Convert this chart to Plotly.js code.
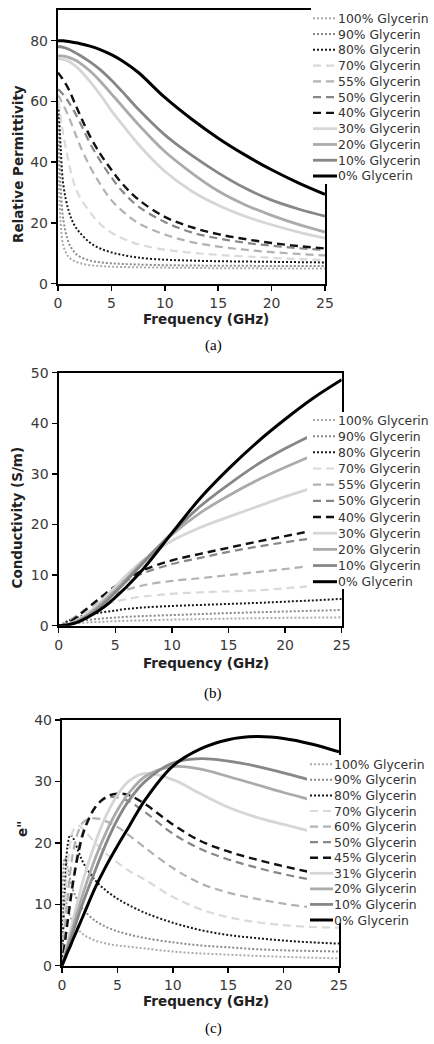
<!DOCTYPE html>
<html>
<head>
<meta charset="utf-8">
<script src="https://cdn.plot.ly/plotly-3.0.1.min.js"></script>
<style>
html, body { margin: 0; padding: 0; background: #ffffff; }
#chart { width: 434px; height: 1044px; }
</style>
</head>
<body>
<div id="chart"></div>
<script>
// ---------- DATA ----------
// (a) relative permittivity vs frequency (GHz)
const freqA = [0, 0.1, 0.25, 0.5, 1, 1.5, 2, 3, 4, 5, 6, 7.5, 10, 12.5, 15, 17.5, 20, 22.5, 25];
const perm100 = [46, 32, 20, 12.5, 8.8, 7.5, 6.8, 6.1, 5.8, 5.6, 5.5, 5.4, 5.3, 5.2, 5.1, 5.1, 5.0, 5.0, 5.0];
const perm90  = [55, 45, 32, 21, 13.5, 10.5, 9, 7.6, 7, 6.7, 6.5, 6.3, 6.1, 6, 5.9, 5.9, 5.8, 5.8, 5.8];
const perm80  = [60, 55, 45, 32.5, 24, 19.5, 17, 13.5, 11.5, 10.3, 9.5, 8.6, 7.9, 7.6, 7.4, 7.3, 7.2, 7.1, 7];
const perm70  = [60, 58.5, 55, 49, 40, 33, 28.8, 23.5, 19.5, 16.8, 15, 13, 11.2, 10.2, 9.5, 9, 8.5, 8.1, 7.8];
const perm55  = [62, 61.5, 60.5, 58.8, 55, 50.5, 46, 38.5, 32.5, 27.5, 24, 20, 16.2, 13.7, 12.2, 11.2, 10.4, 9.8, 9.3];
const perm50  = [64, 63.7, 63.2, 62.2, 59.8, 56.8, 53.5, 46.2, 40.2, 35, 30.5, 25.5, 20.3, 16.9, 14.9, 13.5, 12.5, 11.7, 11.1];
const perm40  = [69.5, 69, 68.3, 67, 64, 60, 56, 48.5, 42.5, 37.5, 33, 27.8, 22, 18.6, 16.3, 14.7, 13.4, 12.4, 11.6];
const perm30  = [74, 74, 74, 73.8, 73.2, 72, 70.5, 66.5, 62, 57, 52.5, 46, 37, 30.5, 25.8, 22.2, 19.4, 17, 15];
const perm20  = [75, 75, 75, 74.9, 74.5, 73.8, 72.8, 70, 66.5, 62.5, 58.5, 52.5, 43.5, 36.5, 30.5, 26, 22.5, 19.5, 17];
const perm10  = [78, 78, 78, 77.8, 77.2, 76.3, 75.3, 73, 70.3, 67, 63.3, 57.5, 49, 42.3, 36.5, 31.5, 27.5, 24.6, 22.2];
const perm0   = [80, 80, 80, 80, 79.7, 79.4, 79.1, 78.2, 77, 75.4, 73.4, 69.6, 61.3, 54.2, 47.9, 42.4, 37.5, 33.2, 29.4];

// (b) conductivity (S/m) and (c) e'' vs frequency (GHz)
const freqBC = [0, 0.25, 0.5, 0.75, 1, 1.5, 2, 3, 4, 5, 6, 7.5, 10, 12.5, 15, 17.5, 20, 22.5, 25];
const cond100 = [0, 0.15, 0.27, 0.33, 0.39, 0.48, 0.56, 0.7, 0.8, 0.9, 0.98, 1.05, 1.2, 1.3, 1.4, 1.48, 1.55, 1.6, 1.65];
const cond90  = [0, 0.24, 0.47, 0.6, 0.7, 0.87, 1.0, 1.25, 1.45, 1.6, 1.75, 1.9, 2.1, 2.3, 2.5, 2.65, 2.8, 2.95, 3.1];
const cond80  = [0, 0.17, 0.55, 0.9, 1.15, 1.55, 1.85, 2.3, 2.7, 3.0, 3.3, 3.6, 3.9, 4.1, 4.3, 4.5, 4.75, 5.0, 5.3];
const cond70  = [0, 0.12, 0.45, 0.83, 1.2, 1.9, 2.45, 3.3, 4.1, 4.75, 5.25, 5.8, 6.3, 6.6, 6.8, 7.0, 7.4, 7.9, 8.5];
const cond55  = [0, 0.08, 0.3, 0.63, 1.03, 1.85, 2.6, 4, 5.2, 6.3, 7.1, 8, 8.85, 9.4, 10, 10.6, 11.2, 11.9, 12.5];
const cond50  = [0, 0.05, 0.21, 0.45, 0.78, 1.58, 2.48, 4.3, 6.05, 7.6, 8.9, 10.4, 12.2, 13.4, 14.6, 15.6, 16.5, 17.3, 18.2];
const cond40  = [0, 0.05, 0.2, 0.43, 0.75, 1.55, 2.45, 4.3, 6.1, 7.8, 9.2, 11, 12.9, 14.2, 15.4, 16.6, 17.7, 18.8, 19.8];
const cond30  = [0, 0.03, 0.1, 0.24, 0.42, 0.93, 1.6, 3.3, 5.4, 7.7, 10, 13, 16.8, 19.4, 21.5, 23.5, 25.5, 27.3, 29];
const cond20  = [0, 0.02, 0.09, 0.2, 0.35, 0.78, 1.37, 2.9, 4.85, 7.0, 9.3, 12.8, 18, 22.3, 25.7, 28.7, 31.3, 33.7, 35.8];
const cond10  = [0, 0.02, 0.08, 0.17, 0.3, 0.68, 1.2, 2.6, 4.4, 6.6, 8.9, 12.5, 18.3, 23.6, 27.9, 31.8, 35, 37.8, 40.3];
const cond0   = [0, 0.02, 0.06, 0.13, 0.25, 0.55, 1.0, 2.2, 3.7, 5.6, 7.7, 11.3, 18.3, 25.2, 31, 36.2, 40.8, 45, 48.6];

const loss100 = [0, 11, 9.5, 8, 7, 5.8, 5, 4.1, 3.6, 3.3, 3.1, 2.8, 2.3, 2, 1.8, 1.6, 1.45, 1.3, 1.2];
const loss90  = [0, 17.5, 16, 14, 12.3, 10.3, 9, 7.3, 6.3, 5.6, 5.1, 4.5, 3.8, 3.3, 3, 2.7, 2.5, 2.4, 2.3];
const loss80  = [0, 12, 19.5, 21.3, 20.8, 18.5, 16.5, 13.9, 12.2, 10.9, 9.9, 8.6, 7, 5.8, 5, 4.5, 4.1, 3.8, 3.6];
const loss70  = [0, 9, 16, 20, 22, 22.8, 22, 20, 18.2, 16.8, 15.5, 14, 11.2, 9.2, 7.9, 7.1, 6.6, 6.3, 6.2];
const loss60  = [0, 6, 11, 15.2, 18.5, 22, 23.5, 24, 23.5, 22.6, 21.3, 19.2, 15.9, 13.4, 11.9, 10.9, 10.1, 9.5, 9];
const loss50  = [0, 3.8, 7.5, 10.9, 14, 19, 22.3, 25.8, 27.3, 27.4, 26.8, 25, 21.5, 19, 17.3, 16, 14.9, 14, 13.3];
const loss45  = [0, 3.6, 7, 10.4, 13.5, 18.5, 22, 25.8, 27.5, 28, 27.8, 26.3, 23, 20.3, 18.6, 17.3, 16.2, 15.2, 14.4];
const loss31  = [0, 1.9, 3.8, 5.7, 7.5, 11.1, 14.5, 20, 24.5, 27.8, 30, 31.3, 30.3, 28, 25.8, 24.2, 23, 21.9, 21];
const loss20  = [0, 1.6, 3.2, 4.8, 6.3, 9.4, 12.3, 17.5, 21.8, 25.3, 28, 30.8, 32.4, 32, 30.8, 29.5, 28.2, 27, 25.8];
const loss10  = [0, 1.4, 2.8, 4.1, 5.5, 8.2, 10.8, 15.5, 20, 23.8, 26.8, 30, 33, 33.7, 33.3, 32.5, 31.4, 30.2, 29];
const loss0   = [0, 1.1, 2.2, 3.2, 4.3, 6.4, 8.5, 12.7, 16.3, 19.5, 22.5, 27, 32.5, 35.3, 36.8, 37.3, 37, 36.1, 34.8];

// legend labels
const labelsAB = ['100% Glycerin', '90% Glycerin', '80% Glycerin', '70% Glycerin', '55% Glycerin', '50% Glycerin',
                  '40% Glycerin', '30% Glycerin', '20% Glycerin', '10% Glycerin', '0% Glycerin'];
const labelsC  = ['100% Glycerin', '90% Glycerin', '80% Glycerin', '70% Glycerin', '60% Glycerin', '50% Glycerin',
                  '45% Glycerin', '31% Glycerin', '20% Glycerin', '10% Glycerin', '0% Glycerin'];

// ---------- STYLES ----------
const styles = [
  {color: '#ababab', dash: '2px,2px', width: 2},
  {color: '#8a8a8a', dash: '2px,2px', width: 2},
  {color: '#1a1a1a', dash: '2px,2px', width: 2},
  {color: '#dadada', dash: '8px,5px', width: 2.2},
  {color: '#b2b2b2', dash: '8px,5px', width: 2.2},
  {color: '#878787', dash: '8px,5px', width: 2.2},
  {color: '#111111', dash: '8px,5px', width: 2.4},
  {color: '#d6d6d6', dash: 'solid', width: 2.8},
  {color: '#ababab', dash: 'solid', width: 2.8},
  {color: '#878787', dash: 'solid', width: 2.8},
  {color: '#000000', dash: 'solid', width: 3}
];

const W = 434, H = 1044;
const px = v => v / W;
const py = v => 1 - v / H;

const seriesA = [perm100, perm90, perm80, perm70, perm55, perm50, perm40, perm30, perm20, perm10, perm0];
const seriesB = [cond100, cond90, cond80, cond70, cond55, cond50, cond40, cond30, cond20, cond10, cond0];
const seriesC = [loss100, loss90, loss80, loss70, loss60, loss50, loss45, loss31, loss20, loss10, loss0];

const traces = [];
function addTraces(xs, series, labels, xa, ya) {
  series.forEach((ys, i) => {
    traces.push({
      type: 'scatter', mode: 'lines', x: xs, y: ys, name: labels[i],
      xaxis: xa, yaxis: ya, showlegend: false, hoverinfo: 'skip',
      line: {color: styles[i].color, dash: styles[i].dash, width: styles[i].width, shape: 'spline', smoothing: 1}
    });
  });
}
addTraces(freqA, seriesA, labelsAB, 'x', 'y');
addTraces(freqBC, seriesB, labelsAB, 'x2', 'y2');
addTraces(freqBC, seriesC, labelsC, 'x3', 'y3');

const tickFont = {family: 'DejaVu Sans, Verdana, sans-serif', size: 14, color: '#3a3a3a'};
function xAxis(d0, d1, anchor) {
  return {domain: [px(d0), px(d1)], anchor: anchor, range: [0, 25], tick0: 0, dtick: 5,
    showline: true, mirror: true, linecolor: '#000', linewidth: 2.2, ticks: 'outside', ticklen: 5,
    tickwidth: 1.5, tickcolor: '#000', showgrid: false, zeroline: false, tickfont: tickFont, fixedrange: true};
}
function yAxis(top, bottom, anchor, maxV, step) {
  return {domain: [py(bottom), py(top)], anchor: anchor, range: [0, maxV], tick0: 0, dtick: step,
    showline: true, mirror: true, linecolor: '#000', linewidth: 2.2, ticks: 'outside', ticklen: 5,
    tickwidth: 1.5, tickcolor: '#000', showgrid: false, zeroline: false, tickfont: tickFont, fixedrange: true};
}

// ---------- LEGENDS (drawn boxes over the plot, as in the figure) ----------
const shapes = [];
const annotations = [];
function legend(labels, box, firstY, step, sx0, sx1, tx) {
  shapes.push({type: 'rect', xref: 'paper', yref: 'paper', layer: 'above',
    x0: px(box[0]), x1: px(box[1]), y0: py(box[3]), y1: py(box[2]),
    fillcolor: '#ffffff', line: {width: 0}});
  labels.forEach((lab, i) => {
    const yy = firstY + i * step;
    shapes.push({type: 'line', xref: 'paper', yref: 'paper', layer: 'above',
      x0: px(sx0), x1: px(sx1), y0: py(yy), y1: py(yy),
      line: {color: styles[i].color, dash: styles[i].dash, width: styles[i].width}});
    annotations.push({xref: 'paper', yref: 'paper', x: px(tx), y: py(yy), xanchor: 'left', yanchor: 'middle',
      showarrow: false, text: lab, borderpad: 0,
      font: {family: 'DejaVu Sans, Verdana, sans-serif', size: 12.4, color: '#333333'}});
  });
}
legend(labelsAB, [311, 434, 0, 184], 18.3, 15.77, 313, 337, 336.5);
legend(labelsAB, [307, 434, 412, 589], 420, 16.17, 313, 337, 336.5);
legend(labelsC, [307, 434, 755, 923], 764.3, 15.57, 310, 333, 332.5);

// ---------- TITLES & CAPTIONS ----------
const titleFont = {family: 'DejaVu Sans, Verdana, sans-serif', size: 13.5, color: '#222222', weight: 'bold'};
function ann(text, x, y, angle, font) {
  annotations.push({xref: 'paper', yref: 'paper', x: px(x), y: py(y), xanchor: 'center', yanchor: 'middle',
    showarrow: false, text: text, textangle: angle, font: font, borderpad: 0});
}
ann('Relative Permittivity', 18, 164, -90, titleFont);
ann('Frequency (GHz)', 206, 319, 0, titleFont);
ann('Conductivity (S/m)', 16, 517.5, -90, titleFont);
ann('Frequency (GHz)', 206, 663, 0, titleFont);
ann('e"', 22, 829, -90, titleFont);
ann('Frequency (GHz)', 206, 1001, 0, titleFont);
const capFont = {family: 'Liberation Serif, Times New Roman, serif', size: 15, color: '#000'};
ann('(a)', 213, 345, 0, capFont);
ann('(b)', 213, 693, 0, capFont);
ann('(c)', 213, 1028, 0, capFont);

const layout = {
  width: W, height: H, margin: {l: 0, r: 0, t: 0, b: 0},
  paper_bgcolor: '#ffffff', plot_bgcolor: '#ffffff', showlegend: false,
  xaxis: xAxis(58, 325, 'y'),
  yaxis: yAxis(10.3, 283.7, 'x', 90, 20),
  xaxis2: xAxis(58.7, 341.7, 'y2'),
  yaxis2: yAxis(372.7, 625.7, 'x2', 50, 10),
  xaxis3: xAxis(62, 339, 'y3'),
  yaxis3: yAxis(720, 965.7, 'x3', 40, 10),
  shapes: shapes,
  annotations: annotations
};

Plotly.newPlot('chart', traces, layout, {staticPlot: true, displayModeBar: false});
</script>
</body>
</html>
